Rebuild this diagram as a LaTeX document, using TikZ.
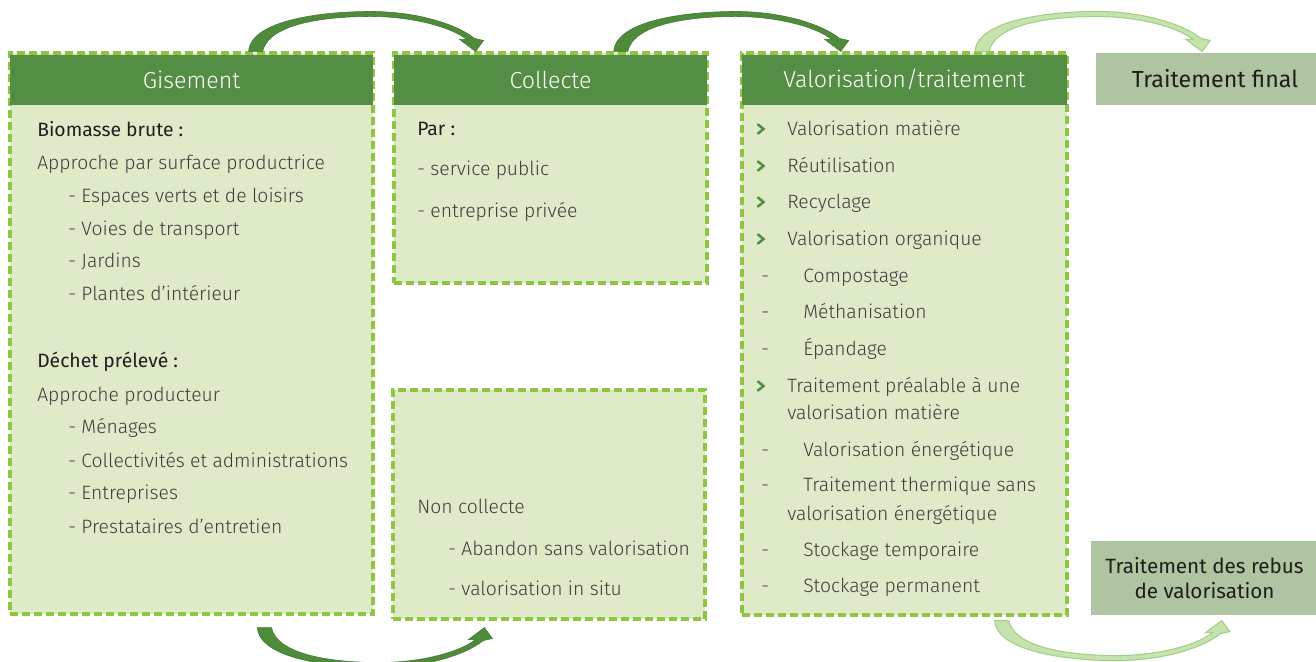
\documentclass[tikz,border=0pt]{standalone}
\usepackage{fontspec}
\setmainfont{Fira Sans Light}
\newfontfamily\regfont{Fira Sans}
\usetikzlibrary{fit,calc}

\definecolor{headgreen}{HTML}{548E44}
\definecolor{bodyfill}{HTML}{DFEBC8}
\definecolor{dashgreen}{HTML}{8DC63F}
\definecolor{graybox}{HTML}{AFC4A0}
\definecolor{textgray}{HTML}{3C3C3C}
\definecolor{darktext}{HTML}{1E1E1E}
\definecolor{arrowdark}{HTML}{4F8B3B}
\definecolor{arrowdarkedge}{HTML}{3F7630}
\definecolor{arrowlight}{HTML}{C6E3AF}
\definecolor{arrowlightedge}{HTML}{A3CF86}

\newcommand{\bodysize}{\fontsize{14.5pt}{17pt}\selectfont}
\newcommand{\headsize}{\fontsize{17.4pt}{20pt}\selectfont}

\tikzset{
  panel/.style={fill=bodyfill, draw=dashgreen, line width=2.3pt,
                dash pattern=on 6pt off 3pt, inner sep=0pt},
  headbar/.style={fill=headgreen, draw=none, inner sep=0pt},
  headtext/.style={text=white, font=\headsize, inner sep=0pt},
  endbox/.style={fill=graybox, draw=none, inner sep=0pt},
  endtext/.style={text=darktext, font=\regfont\headsize, inner sep=0pt, align=center},
  item/.style={anchor=base west, text=textgray, font=\bodysize, inner sep=0pt},
  lead/.style={item, text=darktext, font=\regfont\bodysize},
  chev/.style={draw=headgreen, line width=1.9pt, line cap=round, line join=miter},
  darkarrow/.style={fill=arrowdark, draw=arrowdarkedge, line width=0.4pt},
  lightarrow/.style={fill=arrowlight, draw=arrowlightedge, line width=0.8pt},
  bend arrow/.pic={
    \path[pic actions] (0,0) .. controls (2,-31) and (72,-40) .. (122,-40)
      .. controls (167,-40) and (207,-28) .. (226,-13)
      -- (235,-11) -- (227,0) -- (211,-12) -- (218,-12)
      .. controls (202,-25) and (162,-35) .. (122,-35)
      .. controls (77,-35) and (20,-28) .. (14,0) -- cycle;
  },
}

\begin{document}
\begin{tikzpicture}[x=0.75pt, y=-0.75pt]
\useasboundingbox (0,0) rectangle (1316,661);

% --- panels ---
\node[panel, fit={(10,53) (373,614)}] (gis) {};
\node[headbar, fit={(10,54.5) (373,105)}] (gish) {};
\node[headtext] at (gish.center) {Gisement};

\node[panel, fit={(394,53) (707,283)}] (col) {};
\node[headbar, fit={(394,54.5) (707,105)}] (colh) {};
\node[headtext] at (colh.center) {Collecte};

\node[panel, fit={(393,390) (705,619)}] (ncol) {};

\node[panel, fit={(742,53) (1067,615)}] (val) {};
\node[headbar, fit={(742,54.5) (1067,105)}] (valh) {};
\node[headtext] at (valh.center) {Valorisation/traitement};

\node[endbox, fit={(1096,53) (1334,105)}] (fin) {};
\node[endtext] at (fin.center) {Traitement final};

\node[endbox, fit={(1091,541) (1318,615)}] (reb) {};
\node[endtext, font=\regfont\fontsize{15.5pt}{18.5pt}\selectfont] at (reb.center) {Traitement des rebus\\de valorisation};

% --- Gisement text ---
\node[lead] (g1) at (37,136) {Biomasse brute :};
\node[item] (g2) at (37,169) {Approche par surface productrice};
\node[item] (g3) at (68,202) {- Espaces verts et de loisirs};
\node[item] (g4) at (68,235) {- Voies de transport};
\node[item] (g5) at (68,267) {- Jardins};
\node[item] (g6) at (68,300) {- Plantes d’intérieur};
\node[lead] (g7) at (37,367) {Déchet prélevé :};
\node[item] (g8) at (37,401) {Approche producteur};
\node[item] (g9) at (68,433) {- Ménages};
\node[item] (g10) at (68,467) {- Collectivités et administrations};
\node[item] (g11) at (68,499) {- Entreprises};
\node[item] (g12) at (68,533) {- Prestataires d’entretien};

% --- Collecte text ---
\node[lead] (c1) at (417,135) {Par :};
\node[item] (c2) at (417,175) {- service public};
\node[item] (c3) at (417,217) {- entreprise privée};

\node[item] (n1) at (417,513) {Non collecte};
\node[item] (n2) at (448,555) {- Abandon sans valorisation};
\node[item] (n3) at (448,595) {- valorisation in situ};

% --- Valorisation text ---
\foreach \yy in {135,172,208,245,392}
  \draw[chev] (758,\yy-10.5) -- (763.5,\yy-6) -- (758,\yy-1.5);
\node[item] (v1) at (787,135) {Valorisation matière};
\node[item] (v2) at (787,172) {Réutilisation};
\node[item] (v3) at (787,208) {Recyclage};
\node[item] (v4) at (787,245) {Valorisation organique};
\foreach \yy in {282,318,355,456,491,556,592}
  \node[item] at (761,\yy) {-};
\node[item] (v5) at (803,282) {Compostage};
\node[item] (v6) at (803,318) {Méthanisation};
\node[item] (v7) at (803,355) {Épandage};
\node[item] (v8) at (787,392) {Traitement préalable à une};
\node[item] (v9) at (787,419) {valorisation matière};
\node[item] (v10) at (803,456) {Valorisation énergétique};
\node[item] (v11) at (803,491) {Traitement thermique sans};
\node[item] (v12) at (787,520) {valorisation énergétique};
\node[item] (v13) at (803,556) {Stockage temporaire};
\node[item] (v14) at (803,592) {Stockage permanent};

% --- curved flow arrows between the stages ---
\coordinate (a1) at ($(gis.north west)!0.656!(gis.north east)$);
\coordinate (a2) at ($(col.north west)!0.70!(col.north east)$);
\coordinate (a3) at ($(val.north west)!0.715!(val.north east)$);
\coordinate (b1) at ($(gis.south west)!0.68!(gis.south east)+(0,12)$);
\coordinate (b2) at ($(val.south west)!0.775!(val.south east)+(0,4)$);

\pic[darkarrow] at (a1) {bend arrow};
\pic[darkarrow] at (a2) {bend arrow};
\pic[lightarrow] at (a3) {bend arrow};
\pic[darkarrow, yscale=-1] at (b1) {bend arrow};
\pic[lightarrow, yscale=-1] at (b2) {bend arrow};
\end{tikzpicture}
\end{document}
